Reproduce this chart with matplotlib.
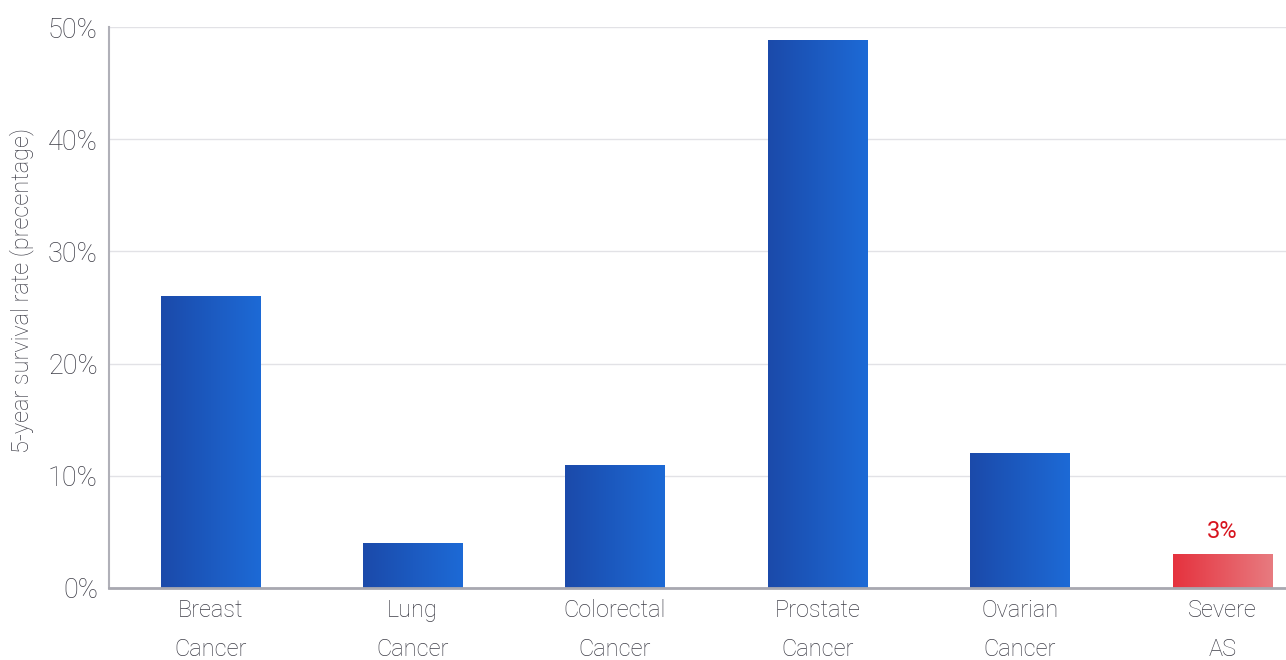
import numpy as np
import matplotlib
matplotlib.use("Agg")
import matplotlib.pyplot as plt
from matplotlib.colors import LinearSegmentedColormap
from matplotlib.patches import Rectangle

categories = ["Breast\nCancer", "Lung\nCancer", "Colorectal\nCancer",
              "Prostate\nCancer", "Ovarian\nCancer", "Severe\nAS"]
values = [26, 4, 11, 48.8, 12, 3]
highlight = [False, False, False, False, False, True]
yticks = [0, 10, 20, 30, 40, 50]
ytick_labels = ["0%", "10%", "20%", "30%", "40%", "50%"]

plt.rcParams['font.family'] = ['Roboto', 'DejaVu Sans']
plt.rcParams['font.weight'] = 'light'

W, H = 1286, 660
fig = plt.figure(figsize=(W / 100, H / 100), dpi=100)
left_px, right_px, top_px, bottom_px = 109, 109 + 6 * 202.4, 27, 588
ax = fig.add_axes([left_px / W, 1 - bottom_px / H,
                   (right_px - left_px) / W, (bottom_px - top_px) / H])

ax.set_xlim(-0.5, len(categories) - 0.5)
ax.set_ylim(0, 50)

blue = LinearSegmentedColormap.from_list("b", ["#1b4aaa", "#1d6ad6"])
red = LinearSegmentedColormap.from_list("r", ["#e5323e", "#e87b80"])
grad = np.linspace(0, 1, 256).reshape(1, -1)

width = 0.49
for i, (v, h) in enumerate(zip(values, highlight)):
    x0 = i - width / 2
    rect = Rectangle((x0, 0), width, v, facecolor="none", edgecolor="none")
    ax.add_patch(rect)
    im = ax.imshow(grad, cmap=red if h else blue, aspect="auto",
                   extent=(x0, x0 + width, 0, v), zorder=3)
    im.set_clip_path(rect)
    if h:
        ax.text(i, v + 1.0, f"{v:g}%", ha="center", va="bottom",
                color="#d7141e", fontsize=17, fontweight="normal", zorder=4)

ax.set_xlim(-0.5, len(categories) - 0.5)
ax.set_ylim(0, 50)

txt = "#3e3e48"
ax.set_yticks(yticks)
ax.set_yticklabels(ytick_labels, fontsize=19.5, color=txt)
ax.set_xticks(range(len(categories)))
ax.set_xticklabels(categories, fontsize=17, color=txt, linespacing=1.9)
ax.tick_params(axis="y", length=0, pad=8)
ax.tick_params(axis="x", length=0, pad=8)

ax.grid(axis="y", color="#e2e2e6", linewidth=1, zorder=0)
ax.set_axisbelow(True)
for s in ["top", "right"]:
    ax.spines[s].set_visible(False)
ax.spines["left"].set_color("#b0b0b8")
ax.spines["left"].set_linewidth(1.5)
ax.spines["bottom"].set_color("#a8a8b0")
ax.spines["bottom"].set_linewidth(2)
ax.spines["bottom"].set_zorder(5)

fig.text(22 / W, 1 - 290 / H, "5-year survival rate (precentage)", rotation=90,
         ha="center", va="center", fontsize=17, color=txt)

fig.savefig("out.png", dpi=100)
